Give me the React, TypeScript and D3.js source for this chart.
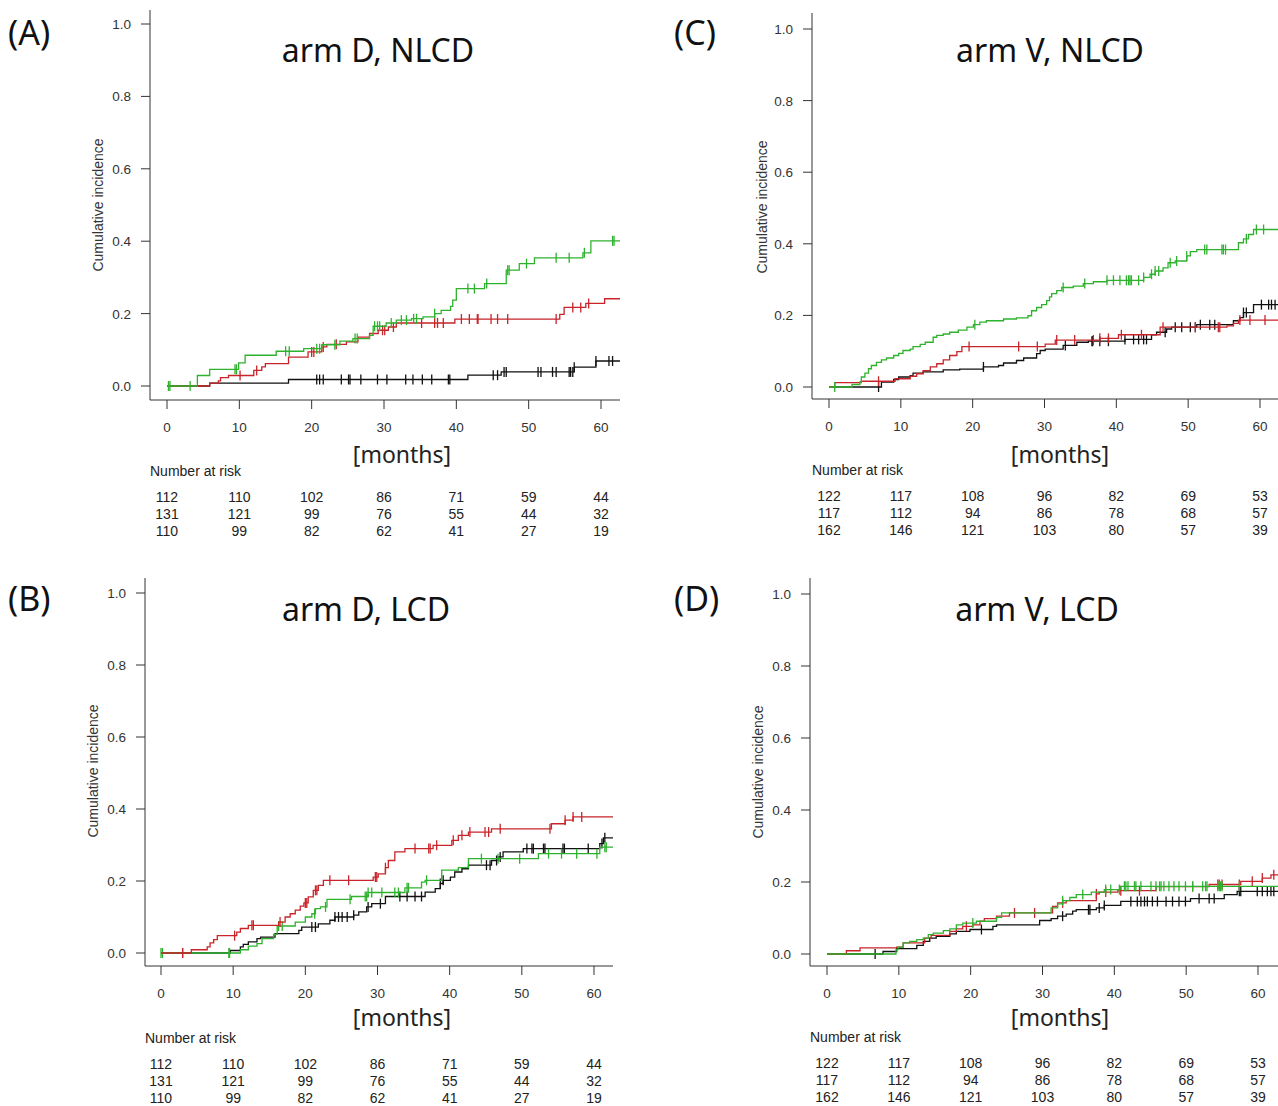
import * as d3 from "d3";

type Step = [number, number];

// shared x ticks / number-at-risk columns
const months = [0, 10, 20, 30, 40, 50, 60];
const yTicks = [0, 0.2, 0.4, 0.6, 0.8, 1.0];

const riskArmD = [
  [112, 110, 102, 86, 71, 59, 44],
  [131, 121, 99, 76, 55, 44, 32],
  [110, 99, 82, 62, 41, 27, 19],
];
const riskArmV = [
  [122, 117, 108, 96, 82, 69, 53],
  [117, 112, 94, 86, 78, 68, 57],
  [162, 146, 121, 103, 80, 57, 39],
];

// ---- arm D, NLCD
const dNlcdGreen: Step[] = [
  [4.2, 0.029], [5.9, 0.046], [9.9, 0.064], [10.8, 0.085], [15.1, 0.096], [18.9, 0.103],
  [21.4, 0.114], [23.9, 0.124], [25.7, 0.131], [28.0, 0.14], [28.5, 0.165], [30.3, 0.174],
  [31.7, 0.182], [33.8, 0.186], [35.4, 0.191], [37.0, 0.2], [37.9, 0.209], [39.2, 0.22],
  [39.5, 0.237], [40.0, 0.269], [43.9, 0.283], [46.9, 0.32], [48.7, 0.338], [50.8, 0.354],
  [57.5, 0.368], [58.6, 0.401],
];
const dNlcdGreenCens = [0.2, 0.4, 3.2, 9.4, 9.6, 16.4, 16.9, 20.7, 21.1, 23.2, 26.0, 26.3, 28.7, 29.1,
  29.4, 31.0, 32.4, 33.1, 34.1, 34.5, 37.0, 41.6, 42.5, 44.2, 47.1, 47.3, 49.7, 53.8, 55.6, 57.7, 61.6, 61.8];
const dNlcdRed: Step[] = [
  [5.9, 0.008], [7.1, 0.014], [7.4, 0.023], [8.5, 0.029], [12.0, 0.043], [13.1, 0.053],
  [13.6, 0.062], [16.8, 0.08], [19.5, 0.094], [21.4, 0.108], [22.1, 0.115], [24.8, 0.122],
  [26.4, 0.135], [28.0, 0.145], [29.2, 0.154], [30.6, 0.163], [31.7, 0.174], [39.8, 0.185],
  [54.3, 0.198], [54.9, 0.217], [57.9, 0.228], [60.5, 0.241],
];
const dNlcdRedCens = [10.1, 12.4, 20.0, 20.3, 21.6, 23.4, 29.8, 30.1, 31.3, 35.2, 37.0, 37.4, 38.2,
  40.7, 41.8, 42.9, 43.0, 44.8, 45.7, 47.1, 53.8, 56.1, 57.2, 58.3];
const dNlcdBlack: Step[] = [
  [5.9, 0.008], [16.8, 0.018], [41.6, 0.03], [46.2, 0.039], [56.3, 0.052], [59.3, 0.069],
];
const dNlcdBlackCens = [20.7, 21.1, 21.6, 24.1, 25.1, 25.3, 26.8, 29.1, 30.4, 33.0, 34.0, 35.3, 36.6,
  38.9, 39.1, 45.1, 45.7, 46.6, 46.9, 51.3, 51.7, 53.3, 53.8, 55.6, 55.8, 56.1, 56.3, 59.3, 61.1, 61.6];

// ---- arm V, NLCD
const vNlcdGreen: Step[] = [
  [3.2, 0.007], [4.3, 0.014], [4.5, 0.028], [5.0, 0.039], [5.5, 0.051], [5.9, 0.06], [6.6, 0.069],
  [7.3, 0.076], [8.0, 0.081], [9.0, 0.088], [9.7, 0.094], [10.3, 0.102], [11.3, 0.106],
  [11.7, 0.113], [12.7, 0.119], [13.4, 0.125], [14.5, 0.139], [15.0, 0.144], [15.9, 0.148],
  [16.8, 0.153], [18.0, 0.159], [19.2, 0.167], [20.1, 0.174], [21.0, 0.181], [21.9, 0.185],
  [24.3, 0.19], [26.1, 0.193], [27.7, 0.199], [28.2, 0.213], [28.9, 0.222], [29.6, 0.23],
  [30.3, 0.241], [30.7, 0.252], [31.0, 0.261], [31.7, 0.269], [32.4, 0.278], [34.0, 0.282],
  [35.4, 0.289], [36.8, 0.294], [38.7, 0.298], [43.8, 0.306], [44.7, 0.315], [45.4, 0.324],
  [46.5, 0.333], [47.2, 0.347], [48.2, 0.352], [49.8, 0.366], [50.3, 0.378], [51.2, 0.384],
  [57.0, 0.403], [57.7, 0.414], [58.4, 0.426], [59.1, 0.44],
];
const vNlcdGreenCens = [0.8, 20.3, 32.6, 35.6, 38.7, 39.6, 40.5, 41.4, 41.7, 41.9, 42.1, 43.1, 43.8,
  44.9, 45.4, 45.9, 47.5, 48.4, 49.8, 52.3, 52.6, 54.7, 54.9, 55.2, 58.1, 59.5, 60.5];
const vNlcdRed: Step[] = [
  [0.8, 0.012], [4.5, 0.016], [9.2, 0.023], [11.3, 0.03], [12.2, 0.037], [13.1, 0.046],
  [14.1, 0.056], [15.0, 0.065], [15.9, 0.076], [16.8, 0.088], [17.8, 0.099], [18.5, 0.113],
  [30.1, 0.12], [31.5, 0.131], [37.7, 0.136], [40.3, 0.146], [46.1, 0.167], [55.4, 0.171],
  [56.3, 0.178], [57.0, 0.187],
];
const vNlcdRedCens = [6.9, 19.5, 26.4, 29.0, 31.7, 34.2, 36.8, 37.7, 38.9, 40.7, 43.5, 46.5, 51.0,
  54.2, 54.4, 57.2, 58.6, 60.7];
const vNlcdBlack: Step[] = [
  [7.3, 0.014], [9.0, 0.021], [9.7, 0.028], [11.3, 0.032], [11.7, 0.039], [13.1, 0.042],
  [15.9, 0.048], [18.2, 0.05], [21.5, 0.056], [23.6, 0.06], [24.3, 0.067], [26.1, 0.074],
  [27.1, 0.081], [28.9, 0.093], [29.4, 0.102], [30.1, 0.106], [32.6, 0.116], [34.5, 0.125],
  [36.1, 0.128], [41.2, 0.133], [44.9, 0.146], [45.6, 0.153], [47.0, 0.162], [47.7, 0.167],
  [51.2, 0.174], [56.3, 0.185], [57.2, 0.194], [57.7, 0.208], [59.1, 0.23],
];
const vNlcdBlackCens = [6.9, 21.5, 32.9, 36.6, 36.7, 37.7, 38.9, 41.2, 42.4, 43.1, 43.8, 44.2, 46.8,
  48.2, 49.1, 50.3, 51.0, 51.7, 53.0, 53.7, 57.7, 58.1, 60.2, 61.2, 61.6, 62.1];

// ---- arm D, LCD
const dLcdRed: Step[] = [
  [4.2, 0.009], [6.4, 0.017], [6.8, 0.028], [7.3, 0.037], [7.8, 0.048], [10.5, 0.058],
  [11.0, 0.068], [12.1, 0.077], [16.3, 0.086], [17.2, 0.1], [17.9, 0.109], [18.6, 0.119],
  [19.3, 0.13], [19.8, 0.139], [20.4, 0.156], [21.1, 0.174], [21.8, 0.188], [22.5, 0.202],
  [29.4, 0.211], [30.1, 0.22], [31.1, 0.237], [31.5, 0.257], [32.4, 0.281], [33.8, 0.29],
  [37.7, 0.299], [40.3, 0.313], [41.2, 0.327], [42.6, 0.336], [45.8, 0.345], [54.1, 0.359],
  [56.0, 0.369], [57.1, 0.378],
];
const dLcdRedCens = [3.0, 10.2, 12.6, 12.8, 16.5, 20.0, 20.2, 21.4, 21.6, 23.4, 26.0, 29.7, 29.9, 31.1,
  35.2, 37.1, 37.3, 38.2, 40.5, 41.7, 42.8, 44.9, 45.4, 47.0, 53.9, 56.0, 57.1, 58.3];
const dLcdGreen: Step[] = [
  [11.0, 0.009], [12.1, 0.019], [13.3, 0.026], [14.0, 0.04], [15.6, 0.052], [16.1, 0.075],
  [18.6, 0.086], [20.0, 0.1], [20.9, 0.109], [21.4, 0.123], [22.1, 0.128], [23.0, 0.149],
  [26.4, 0.157], [28.7, 0.168], [33.8, 0.181], [36.1, 0.197], [36.6, 0.202], [38.9, 0.23],
  [41.2, 0.237], [42.6, 0.262], [52.3, 0.276], [60.8, 0.294],
];
const dLcdGreenCens = [0, 0.2, 3.0, 9.4, 9.5, 16.3, 16.8, 21.3, 22.8, 26.2, 28.3, 28.5, 28.7, 29.2,
  30.6, 32.4, 32.9, 34.1, 34.3, 36.8, 44.4, 46.7, 49.7, 53.7, 55.5, 57.6, 60.4, 61.5, 61.7];
const dLcdBlack: Step[] = [
  [9.6, 0.007], [11.0, 0.017], [11.4, 0.024], [12.1, 0.031], [13.3, 0.04], [13.8, 0.044],
  [15.8, 0.054], [19.1, 0.063], [19.5, 0.072], [21.8, 0.081], [23.4, 0.091], [24.1, 0.1],
  [26.7, 0.105], [27.4, 0.114], [28.5, 0.128], [29.2, 0.137], [31.1, 0.157], [36.6, 0.169],
  [38.0, 0.179], [38.7, 0.193], [39.1, 0.202], [40.1, 0.211], [40.7, 0.225], [41.7, 0.234],
  [42.6, 0.244], [45.8, 0.257], [46.7, 0.267], [47.4, 0.281], [50.2, 0.29], [60.8, 0.304],
  [61.3, 0.32],
];
const dLcdBlackCens = [20.9, 21.4, 24.1, 24.6, 25.1, 25.8, 26.7, 28.7, 30.4, 33.1, 34.1, 35.2, 36.1,
  38.7, 39.1, 45.1, 45.6, 46.5, 47.0, 50.7, 51.4, 51.6, 53.0, 53.2, 55.7, 55.9, 59.2, 61.1, 61.5];

// ---- arm V, LCD
const vLcdGreen: Step[] = [
  [9.6, 0.012], [9.9, 0.019], [10.6, 0.031], [11.5, 0.035], [12.5, 0.04], [13.4, 0.044],
  [14.1, 0.054], [14.8, 0.058], [16.2, 0.065], [17.1, 0.07], [18.0, 0.081], [18.9, 0.086],
  [20.8, 0.091], [23.6, 0.102], [24.3, 0.114], [31.2, 0.128], [32.1, 0.139], [32.8, 0.148],
  [33.8, 0.157], [34.7, 0.165], [36.8, 0.172], [38.6, 0.179], [40.9, 0.188],
];
const vLcdGreenCens = [20.3, 32.8, 35.6, 38.8, 39.5, 40.7, 41.4, 41.6, 41.9, 42.8, 43.0, 43.7, 45.1,
  45.8, 46.3, 46.5, 46.9, 47.6, 48.3, 49.0, 49.9, 50.9, 52.3, 52.7, 52.9, 54.4, 54.6, 54.8, 55.0, 57.4];
const vLcdRed: Step[] = [
  [2.7, 0.009], [4.6, 0.017], [9.7, 0.019], [10.6, 0.031], [13.6, 0.044], [14.5, 0.052],
  [17.1, 0.063], [18.0, 0.07], [18.9, 0.077], [20.3, 0.081], [21.3, 0.091], [21.9, 0.098],
  [23.6, 0.105], [25.4, 0.114], [31.4, 0.132], [32.1, 0.142], [33.3, 0.148], [37.5, 0.167],
  [37.9, 0.172], [40.5, 0.176], [45.8, 0.187], [53.2, 0.193], [57.6, 0.202], [60.6, 0.211],
  [61.8, 0.22],
];
const vLcdRedCens = [19.4, 26.1, 28.9, 32.8, 37.5, 38.8, 40.9, 43.5, 50.9, 54.4, 54.6, 55.0, 57.4,
  59.2, 60.6, 62.2];
const vLcdBlack: Step[] = [
  [7.8, 0.007], [9.7, 0.015], [12.5, 0.024], [13.4, 0.035], [14.3, 0.044], [15.2, 0.049],
  [17.1, 0.056], [18.0, 0.063], [19.9, 0.068], [23.1, 0.077], [23.6, 0.081], [29.6, 0.093],
  [31.2, 0.098], [32.1, 0.105], [33.3, 0.111], [34.2, 0.119], [34.7, 0.123], [37.5, 0.128],
  [38.6, 0.135], [40.9, 0.146], [50.6, 0.154], [55.3, 0.165], [57.1, 0.174],
];
const vLcdBlackCens = [6.7, 21.5, 32.8, 36.4, 36.6, 37.9, 38.6, 42.3, 43.2, 43.7, 44.2, 44.6, 45.3,
  46.0, 47.2, 48.1, 49.0, 49.9, 51.8, 53.2, 53.9, 57.4, 57.6, 59.9, 60.6, 61.3, 61.8, 62.2];

const GREEN = "#2eb22e";
const RED = "#c8242a";
const BLACK = "#111";
const AXIS = "#333";
const ARIAL = "'Liberation Sans', Arial, sans-serif";
const CALIBRI = "'Noto Sans', 'Open Sans', sans-serif";

function valueAt(steps: Step[], t: number) {
  let v = 0;
  for (const [m, val] of steps) if (m <= t) v = val;
  return v;
}

type PanelProps = {
  letter: string;
  title: string;
  risk: number[][];
  series: { steps: Step[]; cens: number[]; color: string }[];
  axisX: number; // y-axis line position
  x0: number; x60: number; xEnd: number;
  y0: number; y1: number; yTop: number; axisY: number;
  titleX: number; titleY: number;
  letterX: number; letterY: number;
  ylabX: number; ylabY: number;
  monthsX: number; monthsY: number;
  riskY: number;
};

function Panel(p: PanelProps) {
  const x = d3.scaleLinear().domain([0, 60]).range([p.x0, p.x60]);
  const y = d3.scaleLinear().domain([0, 1]).range([p.y0, p.y1]);
  const endMonth = x.invert(p.xEnd);
  const line = d3.line<Step>().curve(d3.curveStepAfter).x(d => x(d[0])).y(d => y(d[1]));

  return (
    <g>
      <text x={p.letterX} y={p.letterY} fontFamily={CALIBRI} fontSize={34} fill="#111">{p.letter}</text>
      <text x={p.titleX} y={p.titleY} textAnchor="middle" fontFamily={CALIBRI} fontSize={32} fill="#111">{p.title}</text>

      {/* axes */}
      <line x1={p.axisX} x2={p.axisX} y1={p.yTop} y2={p.axisY} stroke={AXIS} strokeWidth={1} />
      <line x1={p.axisX} x2={p.xEnd} y1={p.axisY} y2={p.axisY} stroke={AXIS} strokeWidth={1} />
      {yTicks.map(t => (
        <g key={"y" + t}>
          <line x1={p.axisX - 9} x2={p.axisX} y1={y(t)} y2={y(t)} stroke={AXIS} />
          <text x={p.axisX - 19} y={y(t) + 5} textAnchor="end" fontFamily={ARIAL} fontSize={13.5} fill="#333">{t.toFixed(1)}</text>
        </g>
      ))}
      {months.map(m => (
        <g key={"x" + m}>
          <line x1={x(m)} x2={x(m)} y1={p.axisY} y2={p.axisY + 9} stroke={AXIS} />
          <text x={x(m)} y={p.axisY + 32} textAnchor="middle" fontFamily={ARIAL} fontSize={13.5} fill="#333">{m}</text>
        </g>
      ))}
      <text transform={`translate(${p.ylabX},${p.ylabY}) rotate(-90)`} textAnchor="middle" fontFamily={ARIAL} fontSize={14} fill="#333">Cumulative incidence</text>
      <text x={p.monthsX} y={p.monthsY} textAnchor="middle" fontFamily={CALIBRI} fontSize={23} fill="#222">[months]</text>

      {/* curves */}
      {p.series.map((s, i) => {
        const pts: Step[] = [[0, 0], ...s.steps, [endMonth, s.steps[s.steps.length - 1][1]]];
        return (
          <g key={i}>
            <path d={line(pts) ?? ""} fill="none" stroke={s.color} strokeWidth={1.3} />
            {s.cens.map((c, j) => (
              <line key={j} x1={x(c)} x2={x(c)} y1={y(valueAt(s.steps, c)) - 5} y2={y(valueAt(s.steps, c)) + 5}
                stroke={s.color} strokeWidth={1.3} />
            ))}
          </g>
        );
      })}

      {/* number at risk */}
      <text x={p.axisX} y={p.riskY} fontFamily={ARIAL} fontSize={14} fill="#222">Number at risk</text>
      {p.risk.map((row, r) => row.map((n, c) => (
        <text key={r + "-" + c} x={x(months[c])} y={p.riskY + 26 + r * 17} textAnchor="middle"
          fontFamily={ARIAL} fontSize={14} fill="#222">{n}</text>
      )))}
    </g>
  );
}

export default function App() {
  return (
    <div style={{ position: "absolute", left: 0, top: 0 }}>
      <svg width={1278} height={1106} style={{ display: "block", background: "#fff" }}>
        <Panel letter="(A)" title="arm D, NLCD" risk={riskArmD}
          series={[
            { steps: dNlcdBlack, cens: dNlcdBlackCens, color: BLACK },
            { steps: dNlcdRed, cens: dNlcdRedCens, color: RED },
            { steps: dNlcdGreen, cens: dNlcdGreenCens, color: GREEN },
          ]}
          axisX={150} x0={167} x60={601} xEnd={620} y0={386} y1={24} yTop={10} axisY={400}
          titleX={378} titleY={62} letterX={8} letterY={45} ylabX={103} ylabY={205}
          monthsX={402} monthsY={463} riskY={476} />
        <Panel letter="(C)" title="arm V, NLCD" risk={riskArmV}
          series={[
            { steps: vNlcdBlack, cens: vNlcdBlackCens, color: BLACK },
            { steps: vNlcdRed, cens: vNlcdRedCens, color: RED },
            { steps: vNlcdGreen, cens: vNlcdGreenCens, color: GREEN },
          ]}
          axisX={812} x0={829} x60={1260} xEnd={1280} y0={387} y1={29} yTop={13} axisY={399}
          titleX={1050} titleY={62} letterX={674} letterY={45} ylabX={767} ylabY={207}
          monthsX={1060} monthsY={463} riskY={475} />
        <Panel letter="(B)" title="arm D, LCD" risk={riskArmD}
          series={[
            { steps: dLcdBlack, cens: dLcdBlackCens, color: BLACK },
            { steps: dLcdGreen, cens: dLcdGreenCens, color: GREEN },
            { steps: dLcdRed, cens: dLcdRedCens, color: RED },
          ]}
          axisX={145} x0={161} x60={594} xEnd={613} y0={953} y1={593} yTop={578} axisY={966}
          titleX={366} titleY={621} letterX={8} letterY={611} ylabX={98} ylabY={771}
          monthsX={402} monthsY={1026} riskY={1043} />
        <Panel letter="(D)" title="arm V, LCD" risk={riskArmV}
          series={[
            { steps: vLcdBlack, cens: vLcdBlackCens, color: BLACK },
            { steps: vLcdRed, cens: vLcdRedCens, color: RED },
            { steps: vLcdGreen, cens: vLcdGreenCens, color: GREEN },
          ]}
          axisX={810} x0={827} x60={1258} xEnd={1280} y0={954} y1={594} yTop={578} axisY={966}
          titleX={1037} titleY={621} letterX={674} letterY={611} ylabX={763} ylabY={772}
          monthsX={1060} monthsY={1026} riskY={1042} />
      </svg>
    </div>
  );
}
